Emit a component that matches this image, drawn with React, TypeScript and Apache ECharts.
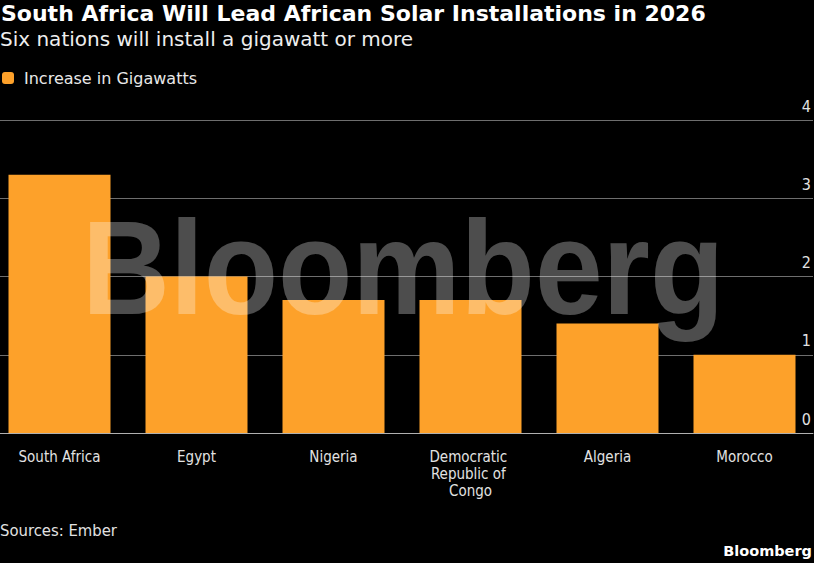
import React, { useEffect, useRef } from "react";
import * as echarts from "echarts";

const categories = ["South Africa", "Egypt", "Nigeria", "Democratic Republic of Congo", "Algeria", "Morocco"];
const values = [3.3, 2.0, 1.7, 1.7, 1.4, 1.0];
const seriesName = "Increase in Gigawatts";
const yMin = 0;
const yMax = 4;
const yInterval = 1;
const titleText = "South Africa Will Lead African Solar Installations in 2026";
const subtitleText = "Six nations will install a gigawatt or more";
const sourceText = "Sources: Ember";
const brandText = "Bloomberg";

const COND = "'DejaVu Sans Condensed', 'DejaVu Sans', sans-serif";
const SANS = "'DejaVu Sans', sans-serif";
// the chart div is shifted left by OFF px so the band axis can start left of the page edge
const OFF = 10;

export default function App() {
  const ref = useRef<HTMLDivElement>(null);
  useEffect(() => {
    document.body.style.margin = "0";
    document.body.style.background = "#000";
    const chart = echarts.init(ref.current!, null, { renderer: "svg" });
    chart.setOption({
      animation: false,
      backgroundColor: "#000000",
      grid: { left: 1, right: 1, top: 120, bottom: 130, containLabel: false },
      legend: {
        data: [seriesName],
        left: 2 + OFF,
        top: 70,
        padding: 0,
        icon: "roundRect",
        itemWidth: 12,
        itemHeight: 12,
        selectedMode: false,
        textStyle: { color: "#e8e8e8", fontSize: 16, fontFamily: SANS, padding: [0, 0, 0, 5] },
      },
      xAxis: {
        type: "category",
        data: categories,
        axisLine: { lineStyle: { color: "#b0b0b0", width: 1 } },
        axisTick: { alignWithLabel: true, length: 7, lineStyle: { color: "#d0d0d0" } },
        axisLabel: {
          interval: 0,
          margin: 15,
          color: "#e2e2e2",
          fontSize: 15,
          fontFamily: COND,
          lineHeight: 17,
          width: 100,
          overflow: "break",
        },
      },
      yAxis: {
        type: "value",
        position: "right",
        min: yMin,
        max: yMax,
        interval: yInterval,
        axisLine: { show: false },
        axisTick: { show: false },
        splitLine: { lineStyle: { color: "#6e6e6e", width: 1 } },
        axisLabel: {
          inside: true,
          margin: 2,
          verticalAlign: "bottom",
          color: "#e2e2e2",
          fontSize: 16,
          fontFamily: COND,
          padding: [0, 0, 6, 0],
        },
      },
      series: [
        {
          type: "bar",
          name: seriesName,
          data: values,
          barWidth: 102,
          itemStyle: { color: "#fda12a" },
          z: 2,
        },
      ],
      graphic: [
        {
          type: "text",
          x: 1 + OFF,
          y: 13,
          style: { text: titleText, fill: "#ffffff", fontSize: 22, fontWeight: "bold", fontFamily: SANS, verticalAlign: "middle" },
        },
        {
          type: "text",
          x: 0 + OFF,
          y: 39,
          style: { text: subtitleText, fill: "#eeeeee", fontSize: 20, fontFamily: SANS, verticalAlign: "middle" },
        },
        {
          type: "text",
          x: 0 + OFF,
          y: 530,
          style: { text: sourceText, fill: "#e2e2e2", fontSize: 16.5, fontFamily: COND, verticalAlign: "middle" },
        },
        {
          type: "text",
          x: 812 + OFF,
          y: 551,
          style: { text: brandText, fill: "#ffffff", fontSize: 14.5, fontWeight: "bold", fontFamily: SANS, align: "right", verticalAlign: "middle" },
        },
        {
          type: "text",
          x: 82 + OFF,
          y: 268,
          scaleX: 0.915,
          z: 100,
          style: {
            text: brandText,
            fill: "rgba(255,255,255,0.3)",
            fontSize: 133,
            fontWeight: "bold",
            fontFamily: "'Liberation Sans', Arial, sans-serif",
            verticalAlign: "middle",
          },
        },
      ],
    });
    return () => chart.dispose();
  }, []);
  return (
    <div
      ref={ref}
      style={{ position: "fixed", left: -OFF, top: 0, width: 814 + OFF, height: 563, background: "#000" }}
    />
  );
}
